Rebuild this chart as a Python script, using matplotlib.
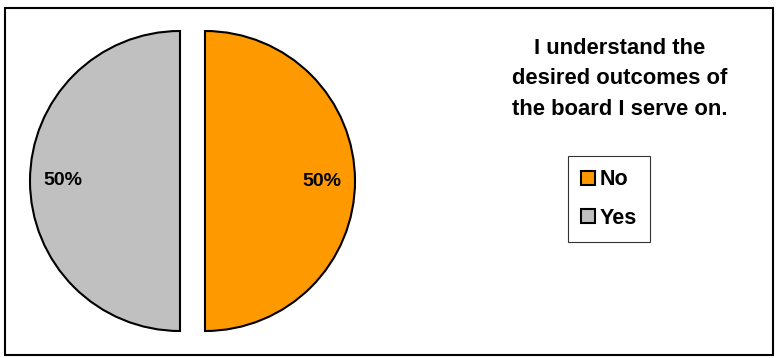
import matplotlib.pyplot as plt
from matplotlib.patches import Rectangle

labels = ['No', 'Yes']
values = [50, 50]
colors = ['#FF9900', '#C0C0C0']
title = 'I understand the\ndesired outcomes of\nthe board I serve on.'

plt.rcParams['font.family'] = ['Liberation Sans', 'DejaVu Sans']

fig = plt.figure(figsize=(7.79, 3.58), dpi=100)
ax = fig.add_axes([0, 0, 1, 1])

# outer chart border
ax.add_patch(Rectangle((5, 3), 768, 347, fill=False, edgecolor='black', lw=1.5))

wedges, texts, autotexts = ax.pie(
    values, colors=colors, startangle=90, counterclock=False,
    center=(192.5, 177), radius=150, explode=[12.5, 12.5],
    autopct='%1.0f%%', pctdistance=0.78,
    wedgeprops={'edgecolor': 'black', 'linewidth': 1.5},
    textprops={'fontsize': 14, 'fontweight': 'bold'},
    frame=True)
ax.axis('off')
ax.set_xlim(0, 779)
ax.set_ylim(0, 358)
ax.set_aspect('equal')

ax.text(620, 279, title, ha='center', va='center', fontsize=15.8,
        fontweight='bold', linespacing=1.62)

leg = ax.legend(wedges, labels, loc='center', bbox_to_anchor=(609 / 779, 1 - 199 / 358),
                frameon=True, fancybox=False, edgecolor='black',
                prop={'size': 15.5, 'weight': 'bold'},
                handlelength=0.65, handleheight=0.65, handletextpad=0.25,
                labelspacing=0.8, borderpad=0.6)
leg.get_frame().set_linewidth(0.8)

fig.savefig('out.png', dpi=100)
